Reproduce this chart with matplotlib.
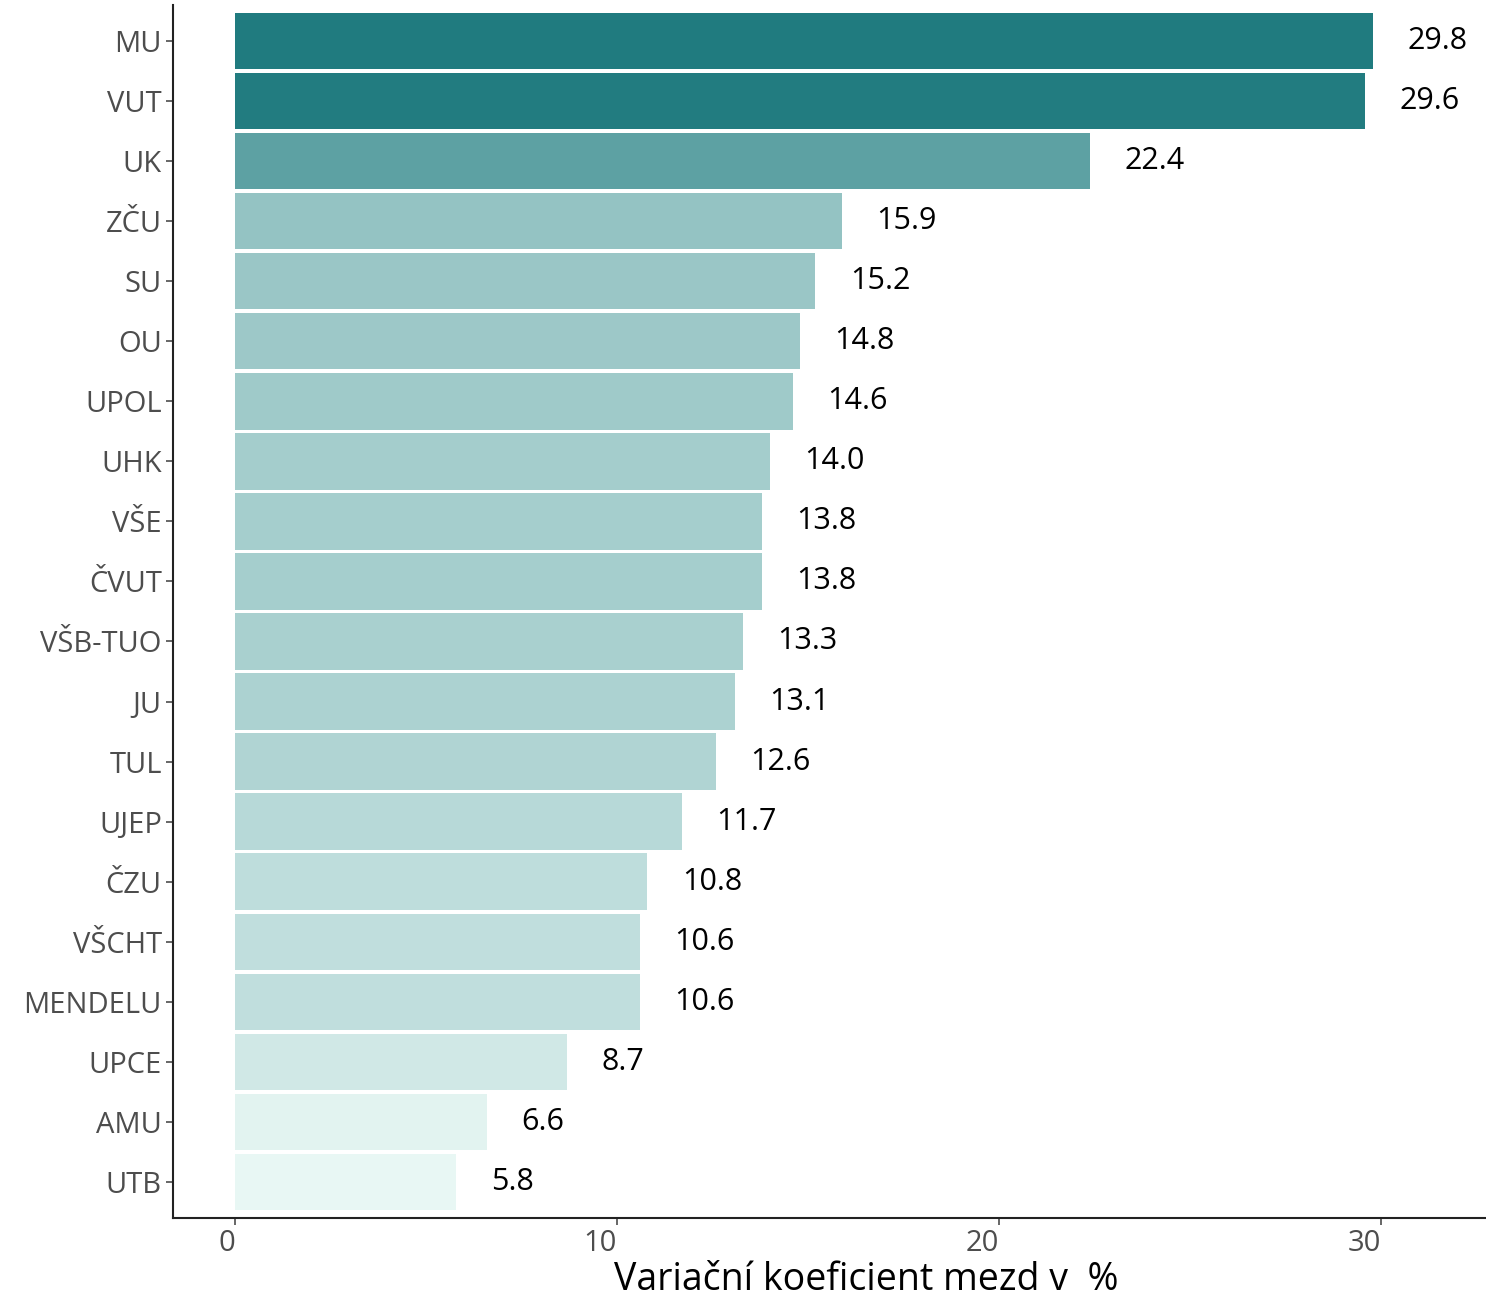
import numpy as np
import matplotlib
matplotlib.use('Agg')
import matplotlib.pyplot as plt
from matplotlib.colors import LinearSegmentedColormap, Normalize

schools = ['MU', 'VUT', 'UK', 'ZČU', 'SU', 'OU', 'UPOL', 'UHK', 'VŠE', 'ČVUT',
           'VŠB-TUO', 'JU', 'TUL', 'UJEP', 'ČZU', 'VŠCHT', 'MENDELU', 'UPCE',
           'AMU', 'UTB']
cv = [29.8, 29.6, 22.4, 15.9, 15.2, 14.8, 14.6, 14.0, 13.8, 13.8,
      13.3, 13.1, 12.6, 11.7, 10.8, 10.6, 10.6, 8.7, 6.6, 5.8]

plt.rcParams['font.family'] = ['Open Sans', 'DejaVu Sans']

cmap = LinearSegmentedColormap.from_list('teal', ['#E8F7F4', '#207B7F'])
norm = Normalize(vmin=min(cv), vmax=max(cv))

fig = plt.figure(figsize=(14.86, 13.0), dpi=100)
ax = fig.add_axes([0.1164, 0.0631, 1.05 - 0.1164, 0.9962 - 0.0631])

ypos = np.arange(len(schools))[::-1]
ax.barh(ypos, cv, height=0.94, color=cmap(norm(np.array(cv))), linewidth=0)

for y, v in zip(ypos, cv):
    ax.text(v + 0.9, y, '%.1f' % v, ha='left', va='center',
            fontsize=22, color='black')

ax.set_yticks(ypos)
ax.set_yticklabels(schools)
ax.set_xticks([0, 10, 20, 30])
ax.set_xlim(-1.62, 34.7)
ax.set_ylim(-0.6, 19.6)

for s in ['top', 'right']:
    ax.spines[s].set_visible(False)
for s in ['left', 'bottom']:
    ax.spines[s].set_linewidth(1.5)
    ax.spines[s].set_color('#222222')

ax.tick_params(axis='both', labelsize=21, labelcolor='#4D4D4D',
               color='#4D4D4D', length=5, width=1.2, pad=3)
for lab in ax.get_xticklabels():
    lab.set_horizontalalignment('right')
ax.set_xlabel('Variační koeficient mezd v  %', fontsize=27, labelpad=2)

fig.savefig('out.png', dpi=100)
